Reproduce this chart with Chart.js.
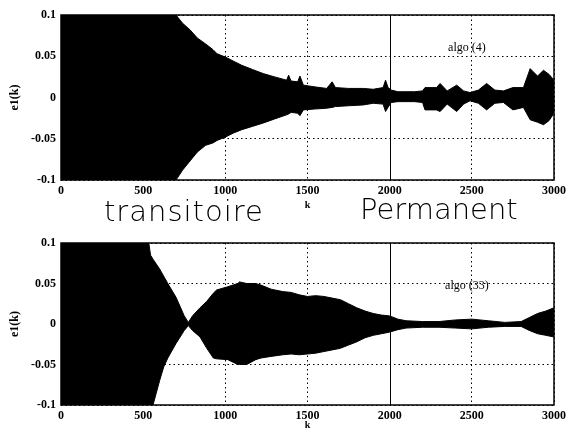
<!DOCTYPE html>
<html>
<head>
<meta charset="utf-8">
<script src="https://cdn.jsdelivr.net/npm/chart.js@4.4.1/dist/chart.umd.min.js"></script>
<style>
  body { margin: 0; background: #fff; }
  #wrap { position: relative; width: 576px; height: 432px; overflow: hidden; }
  .cv { position: absolute; left: 0; width: 576px; height: 216px; }
  .hand { position: absolute; font-family: "DejaVu Sans"; font-weight: 300; color: #000; white-space: nowrap; }
</style>
</head>
<body>
<div id="wrap">
  <div class="cv" style="top:0"><canvas id="top"></canvas></div>
  <div class="cv" style="top:216px"><canvas id="bot"></canvas></div>
  <div class="hand" style="left:104px; top:194px; font-size:29px; letter-spacing:1px;">transitoire</div>
  <div class="hand" style="left:360px; top:192px; font-size:29px;">Permanent</div>
</div>
<script>
// envelope of e1(k)
var kTop = [0, 650, 700, 740, 785, 830, 880, 925, 950, 1000, 1050, 1100, 1165, 1230, 1300, 1373, 1385, 1400, 1440, 1454, 1475, 1540, 1617, 1650, 1670, 1750, 1840, 1900, 1960, 1975, 1990, 2010, 2050, 2100, 2150, 2200, 2215, 2285, 2307, 2350, 2408, 2450, 2489, 2540, 2590, 2640, 2692, 2750, 2814, 2855, 2900, 2936, 2970, 3000];
var upTop = [0.12, 0.12, 0.1, 0.09, 0.082, 0.072, 0.065, 0.058, 0.053, 0.049, 0.044, 0.039, 0.034, 0.029, 0.025, 0.021, 0.027, 0.02, 0.019, 0.026, 0.015, 0.013, 0.011, 0.019, 0.012, 0.011, 0.011, 0.01, 0.012, 0.021, 0.012, 0.009, 0.007, 0.007, 0.007, 0.008, 0.012, 0.012, 0.017, 0.008, 0.015, 0.008, 0.006, 0.009, 0.017, 0.009, 0.008, 0.012, 0.012, 0.035, 0.026, 0.033, 0.028, 0.021];
var loTop = [-0.12, -0.12, -0.1, -0.088, -0.077, -0.066, -0.058, -0.055, -0.052, -0.048, -0.043, -0.039, -0.035, -0.031, -0.026, -0.021, -0.02, -0.018, -0.019, -0.022, -0.015, -0.014, -0.013, -0.012, -0.011, -0.01, -0.009, -0.007, -0.008, -0.017, -0.012, -0.006, -0.005, -0.005, -0.005, -0.006, -0.015, -0.015, -0.017, -0.008, -0.017, -0.008, -0.004, -0.007, -0.015, -0.007, -0.006, -0.015, -0.012, -0.027, -0.03, -0.033, -0.028, -0.019];

var kBot = [0, 520, 545, 560, 580, 600, 625, 650, 700, 750, 775, 800, 846, 887, 927, 947, 1015, 1076, 1086, 1130, 1185, 1217, 1278, 1350, 1400, 1450, 1500, 1550, 1600, 1650, 1700, 1750, 1800, 1850, 1900, 1950, 2000, 2050, 2100, 2200, 2300, 2400, 2500, 2600, 2700, 2800, 2850, 2900, 2950, 3000];
var upBot = [0.12, 0.12, 0.085, 0.08, 0.074, 0.068, 0.059, 0.05, 0.033, 0.01, 0.002, 0.01, 0.02, 0.028, 0.038, 0.042, 0.046, 0.05, 0.052, 0.05, 0.05, 0.048, 0.043, 0.04, 0.039, 0.036, 0.034, 0.035, 0.034, 0.032, 0.03, 0.025, 0.02, 0.016, 0.013, 0.011, 0.01, 0.006, 0.004, 0.003, 0.003, 0.005, 0.006, 0.004, 0.002, 0.003, 0.008, 0.013, 0.016, 0.02];
var loBot = [-0.12, -0.11, -0.1, -0.1, -0.085, -0.07, -0.053, -0.042, -0.024, -0.008, -0.002, -0.008, -0.016, -0.03, -0.042, -0.043, -0.044, -0.05, -0.05, -0.05, -0.044, -0.042, -0.04, -0.038, -0.037, -0.038, -0.037, -0.036, -0.034, -0.032, -0.03, -0.026, -0.022, -0.017, -0.014, -0.012, -0.01, -0.007, -0.005, -0.004, -0.004, -0.005, -0.006, -0.004, -0.003, -0.003, -0.008, -0.012, -0.014, -0.016];

var xTicks = [0, 500, 1000, 1500, 2000, 2500, 3000];
var yTicks = [-0.1, -0.05, 0, 0.05, 0.1];
var solidK = 2000;

var serif = '"Liberation Serif", "Times New Roman", serif';

var framePlugin = {
    id: 'frame',
    afterDatasetsDraw: function(chart) {
        var ctx = chart.ctx, a = chart.chartArea;
        var xs = chart.scales.x;
        var xs2 = Math.round(xs.getPixelForValue(solidK)) + 0.5;
        ctx.save();
        ctx.setLineDash([]);
        ctx.strokeStyle = '#000';
        ctx.lineWidth = 1;
        ctx.beginPath();
        ctx.moveTo(xs2, a.top);
        ctx.lineTo(xs2, a.bottom);
        ctx.stroke();
        ctx.lineWidth = 1.5;
        ctx.strokeRect(a.left, a.top, a.right - a.left, a.bottom - a.top);
        // algo label
        var o = chart.options.plugins.frame;
        ctx.fillStyle = '#000';
        ctx.font = '12px ' + serif;
        ctx.textAlign = 'center';
        ctx.textBaseline = 'middle';
        ctx.fillText(o.text, xs.getPixelForValue(o.x), chart.scales.y.getPixelForValue(o.y));
        ctx.restore();
    }
};

function makeChart(id, k, up, lo, label, labelY, padTop, xH, kPad) {
    new Chart(document.getElementById(id), {
        type: 'line',
        data: {
            datasets: [{
                data: k.map(function(v, i) { return {x: v, y: up[i]}; }),
                borderColor: '#000',
                backgroundColor: '#000',
                borderWidth: 1,
                pointRadius: 0,
                fill: '+1'
            }, {
                data: k.map(function(v, i) { return {x: v, y: lo[i]}; }),
                borderColor: '#000',
                borderWidth: 1,
                pointRadius: 0,
                fill: false
            }]
        },
        options: {
            responsive: true,
            maintainAspectRatio: false,
            animation: false,
            layout: { padding: { top: padTop, right: 22, left: 0, bottom: 0 } },
            plugins: {
                legend: { display: false },
                tooltip: { enabled: false },
                frame: { text: label, x: 2470, y: labelY }
            },
            scales: {
                x: {
                    type: 'linear', min: 0, max: 3000,
                    afterBuildTicks: function(s) { s.ticks = xTicks.map(function(v) { return {value: v}; }); },
                    afterFit: function(s) { s.height = xH; },
                    grid: { lineWidth: 1, drawTicks: false,
                        color: function(c) { return c.tick && c.tick.value === solidK ? 'rgba(0,0,0,0)' : '#000'; } },
                    border: { display: false, dash: [1.5, 3] },
                    ticks: { color: '#000', padding: 4, maxRotation: 0, font: { family: serif, size: 12, weight: 'bold' },
                        callback: function(v) { return String(v); } },
                    title: { display: true, text: 'k', color: '#000', padding: { top: 0, bottom: kPad }, font: { family: serif, size: 10, weight: 'bold' } }
                },
                y: {
                    min: -0.1, max: 0.1,
                    afterBuildTicks: function(s) { s.ticks = yTicks.map(function(v) { return {value: v}; }); },
                    afterFit: function(s) { s.width = 61; },
                    grid: { color: '#000', lineWidth: 1, drawTicks: false },
                    border: { display: false, dash: [1.5, 3] },
                    ticks: { color: '#000', padding: 5, font: { family: serif, size: 12, weight: 'bold' },
                        callback: function(v) { return String(v); } },
                    title: { display: true, text: 'e1(k)', color: '#000', padding: { top: 8, bottom: 0 }, font: { family: serif, size: 12, weight: 'bold' } }
                }
            }
        },
        plugins: [framePlugin]
    });
}

makeChart('top', kTop, upTop, loTop, 'algo (4)', 0.06, 15, 36, 5);
makeChart('bot', kBot, upBot, loBot, 'algo (33)', 0.047, 27, 27, 1);
</script>
</body>
</html>
